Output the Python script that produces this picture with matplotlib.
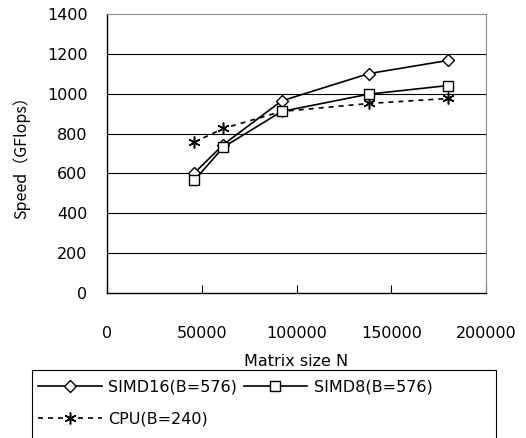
import matplotlib
matplotlib.use("Agg")
import matplotlib.pyplot as plt
from matplotlib.patches import Rectangle

matrix_n = [46080, 61440, 92160, 138240, 180000]
simd16 = [602, 745, 964, 1101, 1167]
simd8 = [565, 732, 911, 998, 1041]
cpu = [757, 826, 911, 951, 976]

x_ticks = [0, 50000, 100000, 150000, 200000]
y_ticks = [0, 200, 400, 600, 800, 1000, 1200, 1400]

plt.rcParams['font.family'] = ['DejaVu Sans', 'Noto Sans CJK JP']

fig = plt.figure(figsize=(5.26, 4.38), dpi=100)
ax = fig.add_axes([107/526, 1 - 293/438, 379/526, 279/438])

for y in y_ticks[1:-1]:
    ax.axhline(y, color='black', lw=0.8, zorder=1)

l16, = ax.plot(matrix_n, simd16, color='black', lw=1.2, marker='D', markersize=6,
               markerfacecolor='white', markeredgecolor='black', label='SIMD16(B=576)', zorder=3)
l8, = ax.plot(matrix_n, simd8, color='black', lw=1.2, marker='s', markersize=7.5,
              markerfacecolor='white', markeredgecolor='black', label='SIMD8(B=576)', zorder=4)
lcpu, = ax.plot(matrix_n, cpu, color='black', lw=1.2, linestyle=(0, (3, 3)),
                marker=(6, 2, 0), markersize=8.5, markeredgewidth=1.1,
                label='CPU(B=240)', zorder=2)

ax.set_xlim(0, 200000)
ax.set_ylim(0, 1400)
ax.set_xticks(x_ticks)
ax.set_yticks(y_ticks)
ax.tick_params(axis='x', direction='in', length=6, width=0.8, pad=24, labelsize=11.5)
ax.tick_params(axis='y', length=0, pad=14, labelsize=11.5)

for side in ['top', 'right']:
    ax.spines[side].set_color('#888888')
for side in ['left', 'bottom']:
    ax.spines[side].set_color('black')
    ax.spines[side].set_linewidth(1.0)

ax.set_xlabel('Matrix size N', fontsize=11.5, labelpad=9)
ax.set_ylabel('Speed（GFlops）', fontsize=11.5, labelpad=12,
              family=['Noto Sans CJK JP', 'DejaVu Sans'])

# legend box runs off the bottom of the figure, as in the original
fig.patches.append(Rectangle((32/526, -0.05), 464/526, 1 - 370/438 + 0.05,
                             transform=fig.transFigure, fill=False,
                             edgecolor='black', lw=0.8))
leg = fig.legend([l16, lcpu, l8], ['SIMD16(B=576)', 'CPU(B=240)', 'SIMD8(B=576)'],
                 loc='upper left', bbox_to_anchor=(34/526, 1 - 376/438),
                 ncol=2, fontsize=11.5, frameon=False, handlelength=4,
                 borderaxespad=0, borderpad=0.25, labelspacing=1.05,
                 handletextpad=0.4, columnspacing=0.4)

fig.savefig('out.png', dpi=100)
